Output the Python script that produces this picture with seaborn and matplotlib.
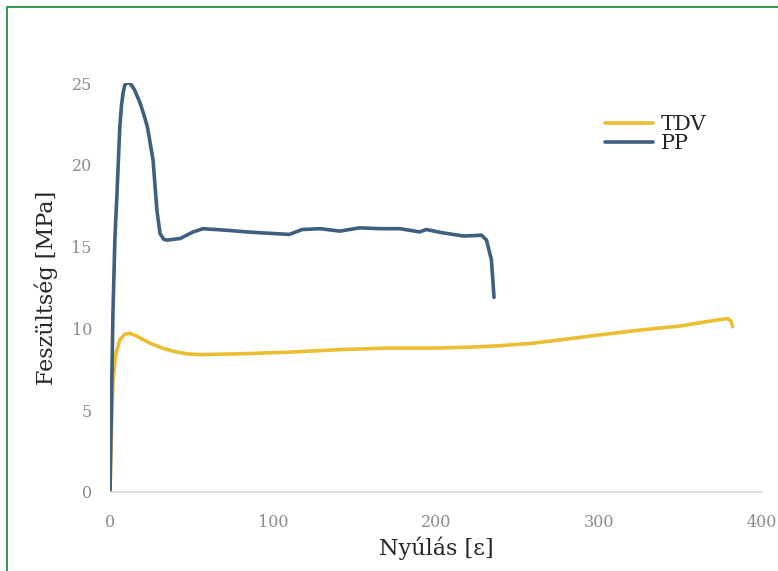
import pandas as pd
import seaborn as sns
import matplotlib.pyplot as plt
from matplotlib.patches import Rectangle

# PP görbe (leolvasott pontok)
pp_x = [0, 0.8, 1.8, 3.0, 4.3, 6.0, 7.0, 8.0, 9.0, 10.0, 11.0, 12.0, 13.0, 15.0, 18.4, 21.0, 23.0, 26.4, 28.8,
        30.7, 33, 35, 43, 51, 57, 72, 84, 92, 110, 118, 129, 141, 153, 166, 178, 190, 194, 204, 217, 228,
        231, 234, 235.6]
pp_y = [0, 5.0, 10.9, 15.5, 18.3, 22.3, 23.6, 24.4, 24.85, 25.0, 25.05, 25.0, 24.9, 24.6, 23.8, 23.0, 22.3, 20.3,
        17.2, 15.8, 15.45, 15.4, 15.5, 15.9, 16.1, 16.0, 15.9, 15.85, 15.75, 16.05, 16.1, 15.95, 16.15, 16.1,
        16.1, 15.9, 16.05, 15.85, 15.65, 15.7, 15.4, 14.2, 11.9]

# TDV görbe
tdv_x = [0, 0.8, 1.8, 3.5, 6, 9, 12, 16, 24.5, 32, 39, 47, 55, 80, 110, 140, 170, 200, 220, 240,
         260, 280, 300, 325, 350, 365, 375, 379, 381, 382]
tdv_y = [0, 3.5, 6.8, 8.4, 9.3, 9.65, 9.7, 9.55, 9.1, 8.8, 8.6, 8.45, 8.4, 8.45, 8.55, 8.7, 8.8, 8.8, 8.85, 8.95,
         9.1, 9.35, 9.6, 9.9, 10.15, 10.4, 10.55, 10.6, 10.45, 10.1]

df = pd.concat([
    pd.DataFrame({'x': tdv_x, 'y': tdv_y, 'sorozat': 'TDV'}),
    pd.DataFrame({'x': pp_x, 'y': pp_y, 'sorozat': 'PP'}),
])

sns.set_style('white')
plt.rcParams['font.family'] = ['DejaVu Serif']

fig = plt.figure(figsize=(7.78, 5.71), dpi=100)
ax = fig.add_axes([0.1414, 0.1384, 0.838, 0.716])

sns.lineplot(data=df, x='x', y='y', hue='sorozat', sort=False, estimator=None,
             palette={'TDV': '#ebbd30', 'PP': '#3f5f80'}, linewidth=2.6, ax=ax)

ax.set_xlim(0, 400)
ax.set_ylim(0, 25)
ax.set_xticks([0, 100, 200, 300, 400])
ax.set_yticks([0, 5, 10, 15, 20, 25])
ax.tick_params(axis='x', length=0, labelsize=11.5, labelcolor='#8c8c8c', pad=16)
ax.tick_params(axis='y', length=0, labelsize=11.5, labelcolor='#8c8c8c', pad=13)
ax.set_xlabel('Nyúlás [ε]', fontsize=16, labelpad=4)
ax.set_ylabel('Feszültség [MPa]', fontsize=16, labelpad=10)

for s in ['top', 'right', 'left']:
    ax.spines[s].set_visible(False)
ax.spines['bottom'].set_color('#d9d9d9')
ax.spines['bottom'].set_linewidth(1.2)

leg = ax.legend(loc='upper left', bbox_to_anchor=(0.759, 0.922), frameon=False, fontsize=15,
                handlelength=2.3, handletextpad=0.4, labelspacing=0.0,
                borderpad=0, borderaxespad=0)

# zöld keret
fig.patches.append(Rectangle((7 / 778, -0.05), 1.2, 1.05 - 7 / 571, transform=fig.transFigure,
                             fill=False, edgecolor='#2e9a4a', linewidth=1.4))

plt.savefig('out.png', dpi=100)
plt.close()
